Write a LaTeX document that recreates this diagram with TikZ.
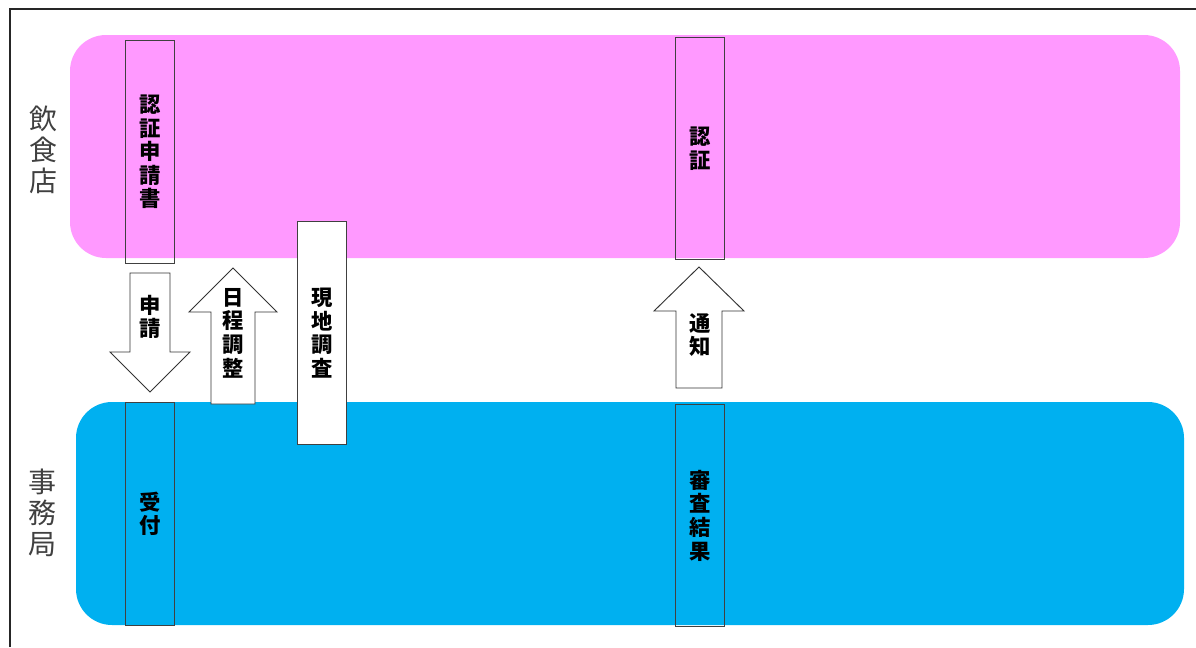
\documentclass[tikz,border=0pt]{standalone}
\usepackage{fontspec}
\setmainfont{Noto Sans CJK JP}
\usepackage{tikz}

\definecolor{shoppink}{RGB}{255,153,255}
\definecolor{officeblue}{RGB}{0,176,240}
\newcommand\boxfont{\bfseries\fontsize{16pt}{17.7pt}\selectfont}

\begin{document}
\begin{tikzpicture}[x=0.75pt,y=-0.75pt,
   stage/.style={draw=black!75, line width=0.6pt, minimum width=36.5pt, minimum height=167pt, inner sep=0pt, align=center, font=\boxfont},
   lane/.style={rounded corners=27pt},
   bigarrow/.style={draw=black!80, fill=white, line width=0.7pt, line join=miter},
   arrowtext/.style={align=center, inner sep=0pt, font=\boxfont},
   who/.style={text=black!75, align=center, inner sep=0pt, font=\fontsize{21pt}{23.5pt}\selectfont}]
   \useasboundingbox (0,0) rectangle (1196,647);
   \draw[line width=1.4pt, black!85] (10,647) -- (10,9) -- (1196,9);

   % lanes
   \fill[shoppink, lane]   (70,35)  rectangle (1180,258);
   \fill[officeblue, lane] (76,402) rectangle (1184,625);

   \node[who] (shop)   at (43,150) {飲\\食\\店};
   \node[who] (office) at (42,513) {事\\務\\局};

   \node[stage] (apply)   at (150,152)   {認\\証\\申\\請\\書};
   \node[stage] (receipt) at (150,514)   {受\\付};
   \node[stage] (cert)    at (700,148.5) {認\\証};
   \node[stage] (review)  at (700,515.5) {審\\査\\結\\果};
   \node[stage, fill=white] (survey) at (322,333) {現\\地\\調\\査};

   % block arrows
   \draw[bigarrow] (130,273) -- (170,273) -- (170,352) -- (190,352) -- (150,392)
                   -- (110,352) -- (130,352) -- cycle;
   \draw[bigarrow] (211,404) -- (255,404) -- (255,312) -- (277,312) -- (233,268)
                   -- (189,312) -- (211,312) -- cycle;
   \draw[bigarrow] (676,388) -- (722,388) -- (722,311) -- (744,311) -- (699,267)
                   -- (654,311) -- (676,311) -- cycle;

   \node[arrowtext] (request)  at (150,317) {申\\請};
   \node[arrowtext] (schedule) at (233,333) {日\\程\\調\\整};
   \node[arrowtext] (notice)   at (700,335) {通\\知};
\end{tikzpicture}
\end{document}
